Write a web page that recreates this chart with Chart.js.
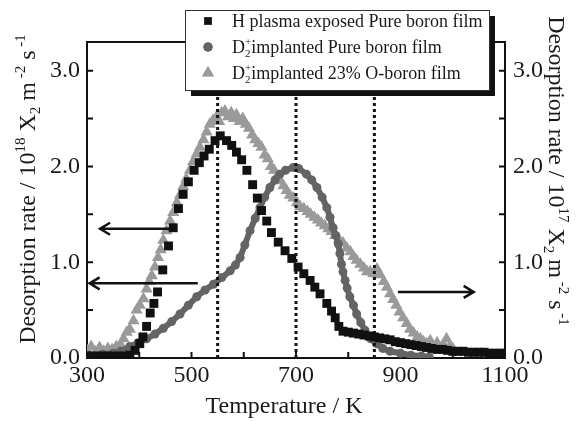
<!DOCTYPE html>
<html>
<head>
<meta charset="utf-8">
<script src="https://cdn.jsdelivr.net/npm/chart.js@4.4.0/dist/chart.umd.min.js"></script>
<style>
    html, body { margin: 0; padding: 0; background: #fff; }
</style>
</head>
<body>
<canvas id="tdsChart" width="577" height="421"></canvas>
<script>
// H plasma exposed pure boron film (left axis, 10^18)
const hTemp = [300, 310, 320, 330, 340, 350, 360, 370, 382, 392, 401, 407, 414, 421, 428, 435, 445, 456, 465, 475, 484, 494, 505, 515, 524, 534, 545, 555, 567, 577, 586, 596, 606, 617, 626, 634, 644, 653, 666, 679, 692, 704, 715, 727, 736, 746, 759, 768, 775, 782, 790, 800, 810, 820, 830, 840, 850, 860, 870, 880, 890, 900, 910, 920, 930, 940, 950, 960, 970, 980, 990, 1000, 1010, 1020, 1030, 1040, 1050, 1060, 1070, 1080, 1090, 1100];
const hRate = [0.02, 0.02, 0.02, 0.02, 0.02, 0.02, 0.02, 0.02, 0.03, 0.08, 0.15, 0.22, 0.33, 0.47, 0.57, 0.69, 0.92, 1.17, 1.36, 1.56, 1.71, 1.84, 1.96, 2.04, 2.11, 2.18, 2.27, 2.32, 2.27, 2.22, 2.15, 2.07, 1.96, 1.81, 1.67, 1.54, 1.43, 1.31, 1.21, 1.12, 1.04, 0.95, 0.88, 0.81, 0.74, 0.67, 0.57, 0.49, 0.42, 0.33, 0.28, 0.27, 0.26, 0.25, 0.24, 0.23, 0.22, 0.21, 0.20, 0.19, 0.17, 0.16, 0.15, 0.14, 0.13, 0.12, 0.11, 0.10, 0.09, 0.09, 0.08, 0.07, 0.07, 0.07, 0.06, 0.06, 0.06, 0.06, 0.05, 0.05, 0.05, 0.05];

// D2+ implanted pure boron film (left axis, 10^18)
const dTemp = [305, 330, 350, 365, 382, 398, 414, 430, 446, 462, 478, 494, 510, 526, 542, 558, 574, 584, 593, 602, 612, 622, 631, 640, 650, 660, 669, 680, 695, 705, 720, 730, 740, 750, 759, 765, 771, 776, 781, 784, 787, 790, 794, 798, 803, 810, 816, 824, 832, 843, 854, 866, 880, 900, 920, 940, 955];
const dRate = [0.03, 0.04, 0.05, 0.07, 0.12, 0.16, 0.20, 0.25, 0.31, 0.38, 0.46, 0.55, 0.64, 0.71, 0.77, 0.84, 0.91, 0.97, 1.05, 1.18, 1.33, 1.46, 1.57, 1.68, 1.78, 1.86, 1.92, 1.96, 1.99, 1.98, 1.92, 1.86, 1.78, 1.68, 1.57, 1.47, 1.36, 1.28, 1.19, 1.09, 0.98, 0.90, 0.81, 0.73, 0.64, 0.55, 0.46, 0.37, 0.29, 0.20, 0.15, 0.10, 0.07, 0.05, 0.03, 0.02, 0.01];

// D2+ implanted 23% O-boron film (right axis, 10^17)
const oTemp = [300, 308, 316, 324, 332, 340, 348, 356, 364, 370, 376, 382, 389, 395, 401, 408, 414, 419, 424, 430, 436, 441, 446, 452, 459, 465, 472, 478, 484, 490, 497, 503, 510, 516, 523, 529, 535, 541, 548, 553, 558, 564, 570, 576, 581, 586, 592, 598, 604, 610, 616, 622, 628, 634, 640, 646, 652, 658, 664, 670, 676, 682, 688, 695, 702, 708, 715, 722, 728, 735, 742, 748, 755, 762, 768, 775, 782, 790, 797, 804, 810, 816, 823, 830, 836, 842, 848, 855, 861, 868, 874, 880, 886, 892, 898, 905, 912, 918, 925, 932, 938, 944, 950, 957, 963, 970, 976, 982, 988, 994, 1000];
const oRate = [0.08, 0.12, 0.06, 0.11, 0.07, 0.10, 0.09, 0.12, 0.14, 0.20, 0.27, 0.30, 0.39, 0.50, 0.55, 0.62, 0.72, 0.80, 0.86, 0.95, 1.05, 1.13, 1.23, 1.33, 1.43, 1.52, 1.62, 1.70, 1.79, 1.87, 1.96, 2.05, 2.13, 2.20, 2.28, 2.36, 2.44, 2.48, 2.52, 2.47, 2.56, 2.58, 2.52, 2.56, 2.50, 2.54, 2.47, 2.50, 2.44, 2.40, 2.33, 2.28, 2.24, 2.20, 2.12, 2.08, 2.00, 1.96, 1.90, 1.85, 1.80, 1.75, 1.70, 1.67, 1.62, 1.58, 1.56, 1.53, 1.50, 1.47, 1.44, 1.41, 1.38, 1.35, 1.32, 1.28, 1.24, 1.20, 1.15, 1.11, 1.06, 1.02, 0.98, 0.94, 0.90, 0.90, 0.88, 0.93, 0.87, 0.80, 0.74, 0.67, 0.61, 0.55, 0.48, 0.42, 0.36, 0.30, 0.26, 0.22, 0.20, 0.17, 0.15, 0.18, 0.12, 0.16, 0.10, 0.14, 0.20, 0.12, 0.10];

// axes
const tempMin = 300;
const tempMax = 1100;
const tempLabels = [300, 500, 700, 900, 1100];
const rateMin = 0;
const rateMax = 3.3;
const rateLabels = [0, 1, 2, 3];

// dotted guide lines (temperature) and their top
const guideTemps = [550, 700, 850];
const guideTop = 2.73;

// arrows: start temperature, end temperature, level
const arrowFrom = [465, 512, 895];
const arrowTo = [325, 305, 1040];
const arrowLevel = [1.35, 0.78, 0.69];

const legendNames = [
    [["H plasma exposed Pure boron film", "n"]],
    [["D", "n"], ["2", "+", "stack"], ["implanted Pure boron film", "n"]],
    [["D", "n"], ["2", "+", "stack"], ["implanted 23% O-boron film", "n"]],
];

const serif = '"Liberation Serif", "Times New Roman", serif';
Chart.defaults.font.family = serif;
Chart.defaults.color = "#1a1a1a";

function toPoints(xs, ys) {
    return xs.map((x, i) => ({ x: x, y: ys[i] }));
}

// text with sub/superscripts
function drawRuns(ctx, runs, x, y, size, align) {
    const small = Math.round(size * 0.62);
    const pieceWidth = (r) => {
        if (r[2] === "stack") {
            ctx.font = small + "px " + serif;
            return Math.max(ctx.measureText(r[0]).width, ctx.measureText(r[1]).width);
        }
        ctx.font = (r[1] === "n" ? size : small) + "px " + serif;
        return ctx.measureText(r[0]).width;
    };
    let total = 0;
    runs.forEach((r) => (total += pieceWidth(r)));
    let cx = align === "center" ? x - total / 2 : x;
    ctx.textAlign = "left";
    ctx.textBaseline = "alphabetic";
    runs.forEach((r) => {
        const w = pieceWidth(r);
        if (r[2] === "stack") {
            ctx.font = small + "px " + serif;
            ctx.fillText(r[0], cx, y + size * 0.22);
            ctx.fillText(r[1], cx, y - size * 0.45);
        } else if (r[1] === "sup") {
            ctx.fillText(r[0], cx, y - size * 0.4);
        } else if (r[1] === "sub") {
            ctx.fillText(r[0], cx, y + size * 0.22);
        } else {
            ctx.fillText(r[0], cx, y);
        }
        cx += w;
    });
}

function rateTitle(power) {
    return [
        ["Desorption rate / 10", "n"], [power, "sup"], [" X", "n"], ["2", "sub"],
        [" m", "n"], [" -2", "sup"], [" s", "n"], [" -1", "sup"],
    ];
}

const decorPlugin = {
    id: "decor",
    beforeDatasetsDraw(chart) {
        const ctx = chart.ctx;
        const area = chart.chartArea;
        const xs = chart.scales.x;
        const yl = chart.scales.yLeft;
        ctx.save();
        ctx.strokeStyle = "#111";
        ctx.lineWidth = 2;
        // top frame line
        ctx.beginPath();
        ctx.moveTo(area.left, area.top);
        ctx.lineTo(area.right, area.top);
        ctx.stroke();
        // inward ticks
        for (let t = tempMin; t <= tempMax; t += 100) {
            const px = xs.getPixelForValue(t);
            ctx.beginPath();
            ctx.moveTo(px, area.bottom);
            ctx.lineTo(px, area.bottom - 6);
            ctx.stroke();
        }
        for (let v = 0; v <= 3; v += 0.5) {
            const py = yl.getPixelForValue(v);
            ctx.beginPath();
            ctx.moveTo(area.left, py);
            ctx.lineTo(area.left + 6, py);
            ctx.moveTo(area.right, py);
            ctx.lineTo(area.right - 6, py);
            ctx.stroke();
        }
        ctx.restore();
    },
    afterDatasetsDraw(chart) {
        const ctx = chart.ctx;
        const xs = chart.scales.x;
        const yl = chart.scales.yLeft;
        ctx.save();
        ctx.strokeStyle = "#111";
        ctx.lineWidth = 2.5;
        for (let i = 0; i < arrowLevel.length; i++) {
            const x0 = xs.getPixelForValue(arrowFrom[i]);
            const x1 = xs.getPixelForValue(arrowTo[i]);
            const py = yl.getPixelForValue(arrowLevel[i]);
            const dir = x1 < x0 ? 1 : -1;
            ctx.beginPath();
            ctx.moveTo(x0, py);
            ctx.lineTo(x1, py);
            ctx.moveTo(x1 + dir * 10, py - 6);
            ctx.lineTo(x1, py);
            ctx.lineTo(x1 + dir * 10, py + 6);
            ctx.stroke();
        }
        ctx.restore();
    },
    afterDraw(chart) {
        const ctx = chart.ctx;
        ctx.save();
        ctx.fillStyle = "#1a1a1a";

        // x title
        drawRuns(ctx, [["Temperature / K", "n"]], 284, 413, 24, "center");

        // left title
        ctx.save();
        ctx.translate(35, 189);
        ctx.rotate(-Math.PI / 2);
        drawRuns(ctx, rateTitle("18"), 0, 0, 24, "center");
        ctx.restore();

        // right title
        ctx.save();
        ctx.translate(549, 171);
        ctx.rotate(Math.PI / 2);
        drawRuns(ctx, rateTitle("17"), 0, 0, 24, "center");
        ctx.restore();

        // legend box with shadow
        const bx = 185, by = 10, bw = 304, bh = 80;
        ctx.fillStyle = "#111";
        ctx.fillRect(bx + 6, by + 6, bw, bh);
        ctx.fillStyle = "#fff";
        ctx.fillRect(bx, by, bw, bh);
        ctx.strokeStyle = "#333";
        ctx.lineWidth = 1;
        ctx.strokeRect(bx + 0.5, by + 0.5, bw, bh);

        const rowY = [21, 47, 73];
        chart.data.datasets.slice(0, 3).forEach((ds, i) => {
            Chart.helpers.drawPoint(ctx, {
                pointStyle: ds.pointStyle,
                radius: ds.pointStyle === "triangle" ? 6.5 : ds.pointStyle === "rect" ? 5.5 : 4.5,
                rotation: 0,
                borderWidth: 0,
            }, 208, rowY[i]);
            ctx.fillStyle = ds.backgroundColor;
            ctx.fill();
            ctx.fillStyle = "#1a1a1a";
            drawRuns(ctx, legendNames[i], 232, rowY[i] + 6, 18, "left");
        });
        ctx.restore();
    },
};

const guideSets = guideTemps.map((t) => ({
    data: [{ x: t, y: 0 }, { x: t, y: guideTop }],
    borderColor: "#111",
    borderWidth: 3,
    borderDash: [3, 3],
    pointRadius: 0,
    showLine: true,
    yAxisID: "yLeft",
}));

new Chart(document.getElementById("tdsChart"), {
    type: "scatter",
    data: {
        datasets: [
            {
                label: "H plasma exposed Pure boron film",
                data: toPoints(hTemp, hRate),
                pointStyle: "rect",
                pointRadius: 6.3,
                backgroundColor: "#111",
                borderWidth: 0,
                yAxisID: "yLeft",
                order: 0,
            },
            {
                label: "D2+ implanted Pure boron film",
                data: toPoints(dTemp, dRate),
                pointStyle: "circle",
                pointRadius: 4.5,
                pointBorderWidth: 0,
                backgroundColor: "#646464",
                borderColor: "#646464",
                borderWidth: 6,
                showLine: true,
                yAxisID: "yLeft",
                order: 1,
            },
            {
                label: "D2+ implanted 23% O-boron film",
                data: toPoints(oTemp, oRate),
                pointStyle: "triangle",
                pointRadius: 7,
                backgroundColor: "#9a9a9a",
                borderWidth: 0,
                yAxisID: "yRight",
                order: 2,
            },
            ...guideSets,
        ],
    },
    options: {
        responsive: false,
        animation: false,
        layout: { padding: { top: 42, left: 0, right: 0, bottom: 0 } },
        plugins: {
            legend: { display: false },
            tooltip: { enabled: false },
        },
        scales: {
            x: {
                type: "linear",
                min: tempMin,
                max: tempMax,
                afterFit: (scale) => { scale.height = 63; },
                grid: { display: false, drawTicks: false },
                border: { color: "#111", width: 2 },
                ticks: {
                    stepSize: 100,
                    autoSkip: false,
                    maxRotation: 0,
                    padding: 3,
                    font: { size: 24 },
                    callback: (v) => (tempLabels.includes(v) ? String(v) : ""),
                },
            },
            yLeft: {
                position: "left",
                min: rateMin,
                max: rateMax,
                afterFit: (scale) => { scale.width = 87; },
                grid: { display: false, drawTicks: false },
                border: { color: "#111", width: 2 },
                ticks: {
                    stepSize: 0.5,
                    autoSkip: false,
                    padding: 7,
                    font: { size: 24 },
                    callback: (v) => (rateLabels.includes(v) ? v.toFixed(1) : ""),
                },
            },
            yRight: {
                position: "right",
                min: rateMin,
                max: rateMax,
                afterFit: (scale) => { scale.width = 72; },
                grid: { display: false, drawTicks: false },
                border: { color: "#111", width: 2 },
                ticks: {
                    stepSize: 0.5,
                    autoSkip: false,
                    padding: 8,
                    font: { size: 24 },
                    callback: (v) => (rateLabels.includes(v) ? v.toFixed(1) : ""),
                },
            },
        },
    },
    plugins: [decorPlugin],
});
</script>
</body>
</html>
